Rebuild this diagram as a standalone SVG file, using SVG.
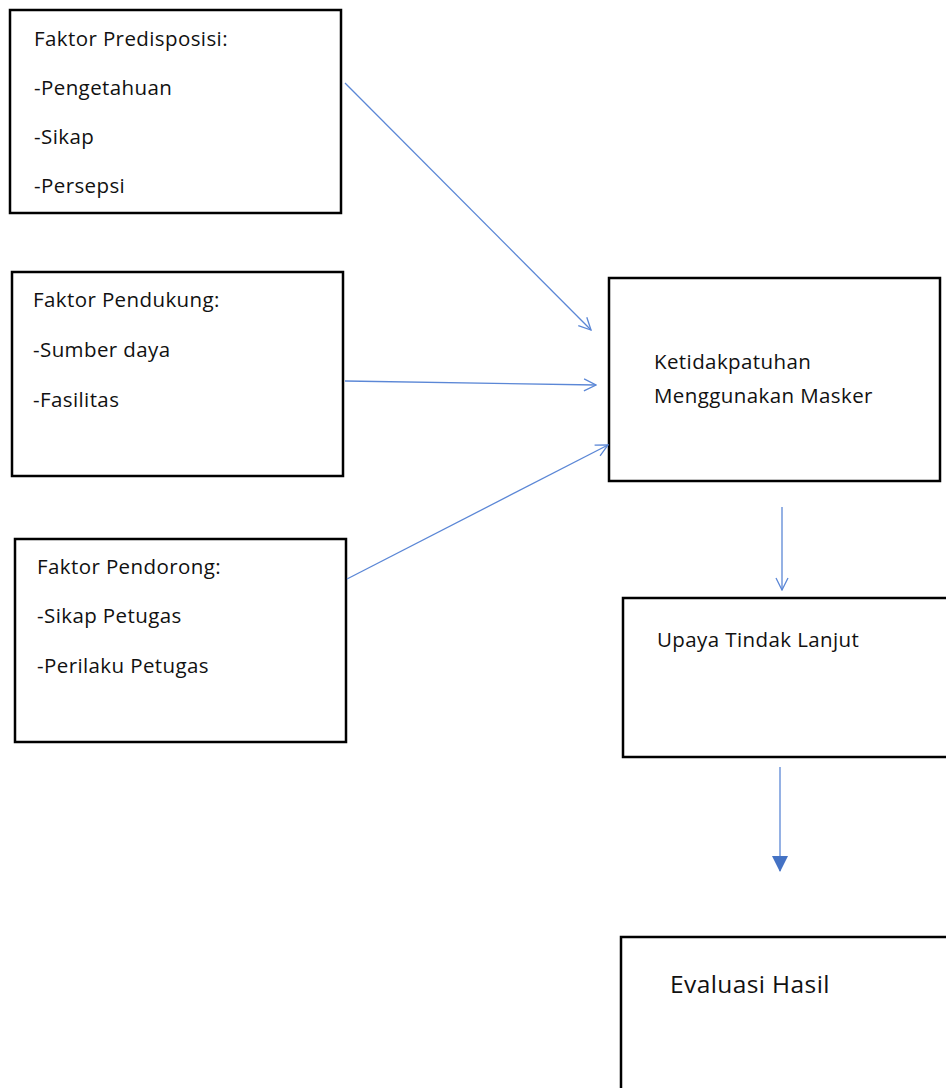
<svg xmlns="http://www.w3.org/2000/svg" width="946" height="1088" viewBox="0 0 946 1088">
<style>
.box{fill:#fff;stroke:#000;stroke-width:2.5}
.t{font-family:"Open Sans","Noto Sans",sans-serif;font-size:20.5px;letter-spacing:0.4px;fill:#111}
.big{font-size:24.5px}
.c{fill:none;stroke:#5b87d6;stroke-width:1.3}
</style>
<defs>
<marker id="open" viewBox="0 0 14 14" refX="13" refY="7" markerWidth="14" markerHeight="14" markerUnits="userSpaceOnUse" orient="auto">
<path d="M1,1 L13,7 L1,13" fill="none" stroke="#5b87d6" stroke-width="1.3"/>
</marker>
<marker id="solid" viewBox="0 0 16 16" refX="8" refY="15" markerWidth="16" markerHeight="16" markerUnits="userSpaceOnUse" orient="0">
<path d="M0,0 L16,0 L8,16 Z" fill="#4472c4"/>
</marker>
</defs>
<rect width="946" height="1088" fill="#fff"/>
<g id="predisposisi">
<rect class="box" x="10" y="10" width="331" height="203"/>
<text class="t" x="34" y="46">Faktor Predisposisi:</text>
<text class="t" x="34" y="95">-Pengetahuan</text>
<text class="t" x="34" y="144">-Sikap</text>
<text class="t" x="34" y="193">-Persepsi</text>
</g>
<g id="pendukung">
<rect class="box" x="12" y="272" width="331" height="204"/>
<text class="t" x="33" y="307">Faktor Pendukung:</text>
<text class="t" x="33" y="357">-Sumber daya</text>
<text class="t" x="33" y="407">-Fasilitas</text>
</g>
<g id="pendorong">
<rect class="box" x="15" y="539" width="331" height="203"/>
<text class="t" x="37" y="574">Faktor Pendorong:</text>
<text class="t" x="37" y="623">-Sikap Petugas</text>
<text class="t" x="37" y="673">-Perilaku Petugas</text>
</g>
<g id="ketidakpatuhan">
<rect class="box" x="609" y="278" width="331" height="203"/>
<text class="t" x="654" y="369">Ketidakpatuhan</text>
<text class="t" x="654" y="403">Menggunakan Masker</text>
</g>
<g id="upaya">
<rect class="box" x="623" y="598" width="340" height="159"/>
<text class="t" x="657" y="647">Upaya Tindak Lanjut</text>
</g>
<g id="evaluasi">
<rect class="box" x="621" y="937" width="340" height="170"/>
<text class="t big" x="670" y="993">Evaluasi Hasil</text>
</g>
<g id="connectors">
<line class="c" x1="345" y1="83" x2="591" y2="330" marker-end="url(#open)"/>
<line class="c" x1="345" y1="381" x2="596" y2="385" marker-end="url(#open)"/>
<line class="c" x1="347" y1="579" x2="608" y2="445" marker-end="url(#open)"/>
<line class="c" x1="782" y1="507" x2="782" y2="590" marker-end="url(#open)"/>
<line class="c" x1="780" y1="767" x2="780" y2="871" marker-end="url(#solid)"/>
</g>
</svg>
